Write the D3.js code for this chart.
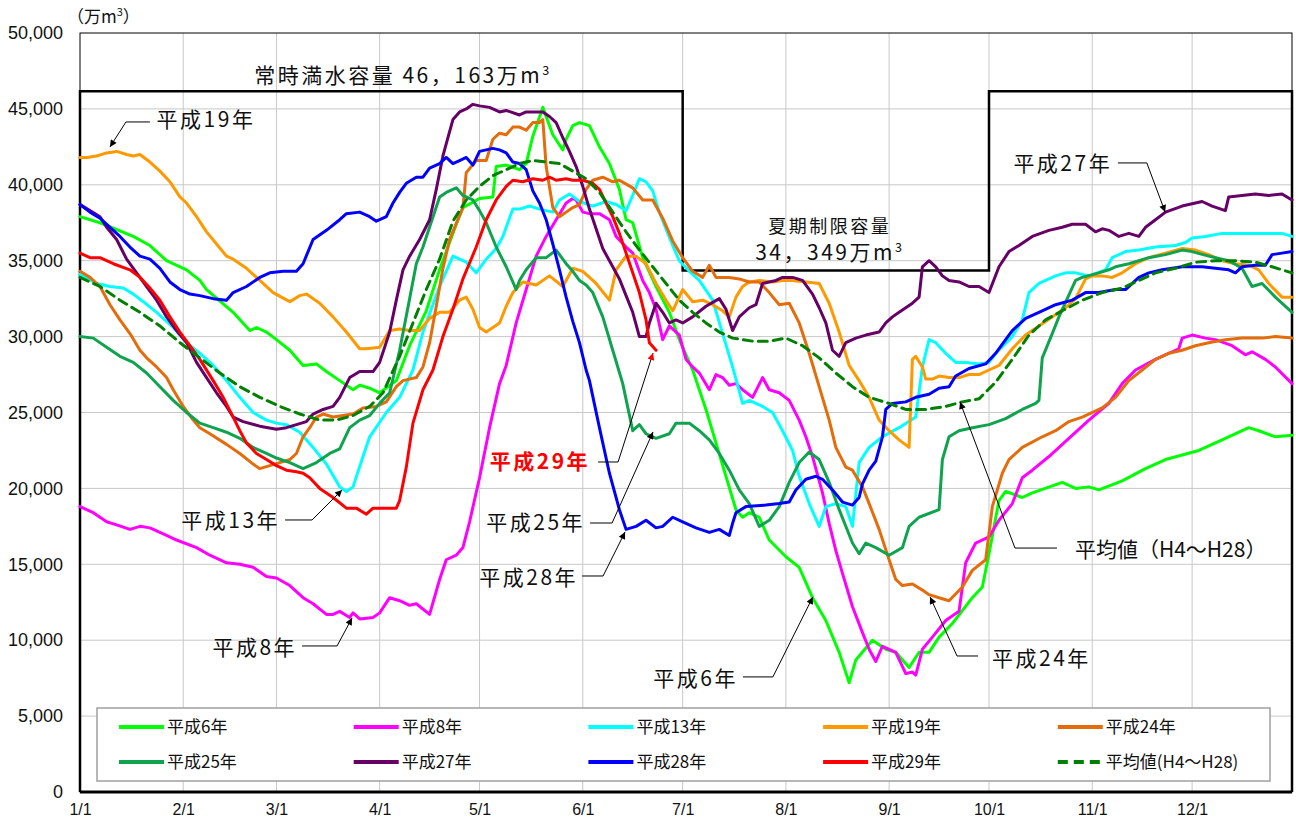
<!DOCTYPE html>
<html>
<head>
<meta charset="UTF-8">
<title>貯水量の推移</title>
<script src="https://d3js.org/d3.v7.min.js"></script>
<style>
  body { margin: 0; background: #fff; }
  svg text { font-family: "Noto Sans CJK JP", "Noto Sans", sans-serif; fill: #111; }
  .tick text { font-family: "Liberation Sans", Arial, sans-serif; fill: #111; }
  .grid line { stroke: #c8c8c8; stroke-width: 1; }
  .series { fill: none; stroke-width: 3; stroke-linejoin: round; stroke-linecap: round; }
  .ann { font-size: 21px; letter-spacing: 2.5px; }
  .leader { fill: none; stroke: #000; stroke-width: 1; }
  .legend-text { font-size: 17px; }
</style>
</head>
<body>
<script>
// ---- data (day of year from 1/1, 万m3) ----
const seriesNames = ["平成6年", "平成8年", "平成13年", "平成19年", "平成24年",
                     "平成25年", "平成27年", "平成28年", "平成29年", "平均値(H4～H28)"];
const seriesColors = ["#00ff00", "#ff00ff", "#00ffff", "#ff9900", "#e46c0a",
                      "#10a34f", "#660066", "#0000ff", "#ff0000", "#008000"];

const fullCapacity = 46163;
const summerCapacity = 34349;
const summerStart = 181;  // 7/1
const summerEnd = 273;    // 10/1
const yearEnd = 364;

const h06 = [[0,37900],[6,37500],[16,36600],[21,36000],[26,35000],[32,34400],[36,33700],[38,33100],[46,31600],[51,30400],[53,30600],[56,30300],[59,29800],[63,29100],[67,28100],[71,28200],[74,27700],[78,27100],[82,26500],[84,26800],[87,26600],[90,26300],[95,27100],[99,29400],[104,31700],[108,34400],[113,37400],[115,38500],[120,39100],[124,39200],[125,41200],[128,41300],[132,41000],[134,41400],[136,43200],[139,45100],[140,44500],[142,43300],[145,42300],[146,43000],[148,43900],[150,44100],[153,43900],[156,42500],[159,41400],[162,39700],[164,37700],[166,37500],[169,35200],[173,33300],[177,31600],[180,29800],[184,27800],[188,25200],[191,23000],[194,20800],[197,18600],[199,18100],[201,18400],[204,18100],[207,16600],[212,15500],[216,14800],[220,12800],[224,11300],[228,9200],[231,7200],[233,8700],[238,10000],[242,9400],[245,9200],[249,8200],[252,9200],[255,9200],[258,10200],[262,11100],[268,12800],[271,13500],[273,15700],[276,19200],[278,19800],[283,19400],[286,19700],[295,20400],[299,20000],[303,20100],[306,19900],[313,20500],[320,21300],[326,21900],[336,22500],[343,23200],[351,24000],[354,23800],[359,23400],[364,23500]];

const h08 = [[0,18800],[4,18400],[8,17800],[11,17600],[15,17300],[18,17500],[21,17400],[26,16900],[29,16600],[35,16100],[39,15600],[44,15100],[48,15000],[52,14800],[56,14200],[59,14100],[63,13600],[67,12800],[70,12400],[74,11700],[76,11700],[78,11900],[81,11500],[82,11800],[84,11400],[88,11500],[90,11800],[93,12800],[96,12600],[99,12300],[101,12400],[105,11700],[108,14000],[110,15300],[113,15600],[115,16100],[117,17800],[120,20700],[123,24000],[126,26900],[128,28100],[131,30900],[134,33100],[137,35300],[140,36600],[143,37700],[146,38800],[148,39100],[149,39000],[151,38200],[153,38100],[156,38100],[159,37700],[161,36600],[164,35900],[166,35500],[169,33700],[171,32900],[173,31800],[175,29800],[177,30700],[180,30100],[182,28500],[184,28000],[186,27600],[189,26500],[191,27500],[193,27300],[195,26800],[197,26900],[199,26500],[202,26000],[205,27300],[207,26500],[210,26300],[213,25800],[216,24500],[218,23400],[220,22100],[223,19700],[225,17700],[227,15900],[229,14400],[232,12200],[235,10500],[237,9400],[239,8600],[241,9600],[245,9200],[248,7800],[250,7900],[251,7700],[253,9400],[256,10200],[260,11300],[264,11900],[266,15100],[269,16400],[273,16800],[276,17900],[280,19000],[283,20700],[286,21200],[291,22100],[296,23100],[303,24500],[309,25600],[313,26900],[317,27800],[323,28500],[330,29200],[331,29900],[334,30100],[338,29900],[341,29800],[346,29400],[350,28800],[352,29000],[356,28500],[359,28000],[364,26900]];

const h13 = [[0,34100],[5,33500],[9,33300],[13,33200],[16,32800],[19,32300],[23,31600],[28,30600],[32,29600],[36,28900],[40,28100],[44,27100],[48,26000],[52,25000],[56,24500],[59,24300],[62,24200],[66,23700],[70,22700],[74,21600],[78,20100],[80,19800],[82,20100],[85,22100],[87,23400],[92,25000],[96,26000],[100,27800],[103,30300],[108,33300],[112,35300],[116,34900],[119,34200],[122,35100],[125,35800],[127,36600],[130,38400],[132,38400],[135,38600],[138,38400],[142,38200],[144,39000],[147,39400],[150,38900],[154,38600],[158,38900],[161,38700],[164,38300],[166,39300],[168,40400],[170,40200],[172,39600],[174,38200],[176,37100],[178,36000],[180,35000],[183,34300],[186,33700],[190,32400],[193,30200],[196,28000],[199,25600],[201,25800],[205,25400],[208,25000],[211,23800],[214,22500],[216,20800],[219,19000],[222,17500],[224,18800],[227,19000],[230,18800],[232,17500],[234,21700],[237,22700],[241,23400],[246,24000],[251,24700],[253,28000],[255,29800],[257,29600],[260,28900],[263,28300],[266,28300],[270,28200],[273,28300],[275,28900],[280,30000],[283,31100],[285,32900],[288,33500],[293,34000],[296,34200],[299,34200],[303,34000],[308,34400],[310,35200],[314,35600],[318,35700],[323,35900],[329,36000],[332,36200],[334,36500],[338,36600],[343,36800],[349,36800],[356,36800],[361,36800],[364,36600]];

const h19 = [[0,41800],[2,41800],[5,41900],[8,42100],[11,42200],[14,42000],[16,41900],[18,42000],[21,41500],[24,40900],[27,40200],[30,39200],[32,38800],[35,37900],[38,36900],[41,36100],[44,35300],[46,35100],[50,34500],[54,33700],[58,32900],[63,32300],[66,32700],[68,32800],[72,32200],[76,31300],[80,30300],[84,29200],[86,29200],[90,29300],[93,30400],[96,30500],[99,30400],[102,30400],[105,31200],[108,31600],[111,31600],[114,32400],[116,32600],[118,31800],[120,30600],[122,30300],[124,30600],[126,30900],[128,32000],[130,32900],[133,33600],[137,33400],[141,34000],[145,33300],[148,34500],[151,34300],[155,33500],[159,32400],[161,34400],[164,35300],[167,35300],[170,34800],[173,33500],[176,32400],[178,31700],[181,33100],[184,32300],[187,32400],[190,32100],[193,31700],[195,31300],[197,32600],[199,33300],[201,33600],[204,33700],[208,33600],[211,33700],[214,33700],[218,33600],[222,33500],[225,32200],[228,30300],[231,28100],[234,27100],[237,26000],[240,24500],[243,23800],[246,23200],[249,22700],[250,28500],[251,28700],[253,28000],[254,27200],[256,27200],[258,27400],[261,27300],[264,27300],[267,27500],[270,27500],[273,27800],[276,28100],[280,29200],[284,30100],[290,31000],[296,31900],[299,32500],[302,33800],[304,34000],[307,34000],[310,33900],[313,34200],[317,34800],[321,35200],[326,35500],[331,35800],[335,35700],[339,35400],[343,35000],[347,34800],[351,34700],[354,34400],[357,33500],[361,32600],[364,32600]];

const h24 = [[0,34300],[3,33900],[6,33300],[9,32100],[12,31100],[15,30200],[18,29100],[20,28600],[23,28000],[26,27300],[28,26500],[31,25400],[34,24500],[36,24000],[39,23600],[44,22900],[48,22300],[52,21600],[54,21300],[57,21500],[60,21700],[63,21900],[65,22300],[67,23400],[69,24000],[71,24700],[73,24900],[76,24700],[79,24800],[82,24900],[85,25300],[89,25400],[92,25700],[95,26700],[97,27100],[101,27300],[103,28000],[105,29600],[107,32000],[109,34500],[111,36400],[115,38500],[116,40800],[119,41600],[122,41600],[124,43000],[126,43400],[128,43300],[130,43800],[132,43800],[134,43600],[136,44100],[138,44100],[139,44300],[140,41200],[142,38500],[144,37900],[146,38200],[148,38500],[150,38700],[152,39700],[154,40300],[157,40500],[160,40200],[162,40300],[166,39800],[169,39000],[172,39000],[175,37800],[178,36300],[181,35200],[184,34300],[187,33900],[189,34700],[190,34300],[191,33900],[195,33900],[198,33800],[201,33600],[204,33600],[207,32900],[210,32100],[213,32200],[216,30900],[219,28900],[222,26700],[225,24500],[227,22700],[230,21400],[232,21200],[235,20100],[237,19000],[240,17300],[243,15300],[245,14000],[247,13600],[250,13700],[253,13300],[255,13000],[258,12800],[261,12600],[265,13500],[268,14600],[272,15300],[274,18800],[277,21000],[279,21900],[283,22700],[289,23400],[293,23800],[297,24400],[301,24700],[307,25300],[311,26000],[315,27100],[319,27800],[323,28500],[327,28900],[331,29100],[335,29400],[339,29600],[344,29800],[349,29900],[355,29900],[359,30000],[364,29900]];

const h25 = [[0,30000],[4,29900],[8,29300],[12,28700],[16,28300],[20,27600],[24,26700],[28,25800],[32,25000],[36,24300],[40,24000],[44,23700],[48,23300],[52,22700],[56,22300],[59,22000],[63,21700],[67,21300],[71,21700],[75,22300],[78,22600],[81,24000],[84,24500],[87,24800],[90,25600],[93,26300],[96,29100],[99,32500],[101,34800],[103,35900],[108,39200],[110,39500],[113,39800],[115,39300],[118,39000],[120,38300],[122,37500],[125,35900],[128,34600],[131,33100],[132,33700],[134,34400],[137,35200],[140,35200],[143,35700],[146,34800],[148,34300],[150,33700],[152,33400],[154,32900],[157,31300],[160,29100],[163,26900],[166,23800],[168,24200],[170,23600],[173,23300],[177,23600],[179,24300],[183,24300],[186,23800],[189,23200],[192,22300],[195,21200],[198,19900],[201,19000],[204,17500],[207,17900],[210,18800],[213,20400],[216,21700],[219,22400],[222,21900],[225,20400],[228,18600],[232,16400],[234,15700],[236,16400],[239,16100],[243,15600],[247,16100],[249,17500],[252,18100],[258,18600],[259,21900],[261,23400],[264,23800],[268,24000],[273,24200],[278,24600],[283,25200],[287,25600],[288,25800],[289,28600],[292,30200],[294,31300],[299,33700],[301,33900],[306,34200],[309,34400],[311,34600],[315,34800],[321,35200],[326,35400],[331,35700],[334,35600],[339,35300],[345,35000],[349,34500],[352,33300],[355,33500],[359,32600],[364,31600]];

const h27 = [[0,38700],[3,38300],[6,37900],[8,37200],[11,36400],[14,35100],[17,34200],[20,33300],[23,32400],[26,31300],[29,30400],[32,29600],[35,28300],[38,27300],[41,26300],[44,25400],[46,24700],[49,24400],[54,24100],[59,23900],[62,24000],[65,24200],[68,24400],[70,24900],[73,25200],[76,25400],[78,26000],[81,27300],[84,27700],[88,27700],[90,28300],[93,30300],[95,32400],[97,34400],[99,35300],[102,36400],[105,37700],[107,39700],[109,41900],[111,43500],[112,44300],[114,44800],[116,45000],[118,45300],[120,45200],[123,45100],[126,44800],[128,44900],[132,44600],[134,44800],[136,44800],[139,44800],[141,44500],[143,44100],[145,43100],[147,42200],[149,41200],[151,39900],[153,38400],[155,37100],[157,35800],[160,34600],[162,33800],[164,32700],[166,31600],[168,30000],[170,30000],[171,30900],[173,32200],[175,31600],[177,30900],[179,31100],[181,30900],[184,31300],[188,32000],[192,32500],[194,31800],[196,30400],[198,31300],[201,31900],[203,32100],[205,33500],[209,33700],[211,33900],[214,33900],[217,33700],[220,32800],[222,31900],[224,30900],[226,29100],[228,28700],[230,29600],[233,29900],[236,30100],[240,30300],[242,30900],[244,31300],[246,31600],[250,32200],[252,32600],[253,34600],[255,35000],[257,34600],[259,34000],[261,33700],[264,33600],[267,33300],[270,33300],[273,32900],[276,34600],[279,35600],[282,36000],[286,36600],[291,37000],[295,37200],[298,37400],[302,37400],[305,36900],[307,37100],[309,37000],[312,36600],[315,36800],[318,36600],[320,37200],[323,37700],[326,38200],[331,38600],[337,38900],[340,38600],[344,38300],[345,39200],[349,39300],[353,39400],[357,39300],[361,39400],[364,39000]];

const h28 = [[0,38700],[3,38200],[6,37800],[9,37200],[12,36600],[15,35900],[18,35300],[21,35100],[24,34500],[27,33600],[30,33100],[33,32800],[36,32700],[40,32500],[44,32400],[46,32900],[50,33300],[54,33900],[57,34200],[61,34300],[65,34300],[67,34800],[70,36400],[74,37000],[78,37700],[80,38100],[84,38200],[87,37900],[89,37600],[92,37900],[94,38800],[96,39500],[98,40100],[101,40500],[103,40500],[105,41100],[108,41400],[110,41800],[112,41400],[114,41600],[116,41800],[118,41300],[120,42200],[122,42300],[124,42400],[126,42300],[128,42100],[130,41500],[132,41400],[134,41000],[136,39600],[138,38800],[140,37700],[142,36100],[144,34400],[146,32600],[148,31000],[150,29600],[152,27800],[153,27100],[156,24000],[159,21000],[162,18600],[164,17300],[167,17500],[170,17900],[173,17400],[175,17500],[178,18100],[181,17800],[185,17400],[189,17100],[192,17300],[195,16900],[196,17700],[197,18400],[200,18800],[206,18900],[210,19000],[213,19100],[215,19900],[218,20600],[221,20800],[223,20600],[226,19900],[229,19100],[232,18900],[234,19400],[235,20300],[237,21200],[239,21800],[241,23400],[242,25200],[244,25600],[248,25700],[251,26000],[255,26200],[258,26600],[261,26700],[263,27400],[267,27900],[272,28200],[275,28900],[278,29800],[280,30400],[284,31200],[288,31600],[293,32100],[298,32400],[302,32900],[306,32900],[311,33100],[314,33100],[318,33900],[321,34200],[325,34400],[331,34600],[337,34600],[341,34500],[345,34400],[347,34200],[349,34600],[353,34700],[356,34700],[358,35400],[361,35500],[364,35600]];

const h29 = [[0,35500],[3,35200],[6,35200],[10,34800],[15,34400],[18,33900],[21,33200],[24,32400],[27,31300],[30,30300],[33,29400],[36,28500],[40,27100],[43,26000],[46,24700],[48,23800],[50,23000],[53,22300],[56,21900],[59,21500],[62,21200],[65,21100],[67,21000],[69,20700],[72,20000],[76,19400],[80,18700],[83,18700],[86,18300],[88,18700],[92,18700],[95,18700],[96,19200],[98,21400],[100,24300],[103,26500],[106,27800],[109,30000],[112,31800],[115,33800],[119,35900],[122,37700],[125,39000],[128,39900],[130,40300],[133,40200],[136,40400],[139,40300],[141,40500],[143,40300],[146,40400],[148,40300],[151,40300],[154,40100],[156,39700],[158,38800],[160,37900],[162,36800],[164,35500],[166,34200],[168,32900],[170,31100],[171,29600],[173,29100]];

const average = [[0,33900],[6,33300],[12,32400],[18,31600],[24,30700],[30,29600],[36,28600],[42,27600],[48,26700],[54,26000],[60,25400],[66,24900],[72,24500],[77,24500],[82,24800],[87,25400],[91,26300],[96,28700],[100,30900],[104,33100],[108,35100],[112,37600],[116,39000],[120,39900],[124,40600],[128,41000],[132,41400],[136,41600],[140,41500],[144,41400],[148,40900],[152,40400],[156,39500],[160,38200],[164,36900],[168,35700],[172,34600],[176,33500],[180,32400],[184,31600],[188,30900],[192,30300],[196,29900],[202,29700],[207,29700],[212,29900],[217,29400],[222,28600],[227,27600],[232,26700],[237,26000],[243,25600],[248,25200],[254,25200],[260,25400],[265,25700],[270,25900],[275,27000],[280,28500],[285,30100],[290,31100],[295,31700],[301,32400],[307,32900],[313,33200],[318,33700],[323,34200],[329,34500],[335,34900],[341,35000],[347,35000],[353,34900],[358,34600],[364,34200]];

const seriesData = [h06, h08, h13, h19, h24, h25, h27, h28, h29, average];

const yTicks = [0, 5000, 10000, 15000, 20000, 25000, 30000, 35000, 40000, 45000, 50000];

// annotation labels: text anchor point and leader path, in [day, 万m3]
const labels = [
  { text: "平成19年", at: [23, 43800], anchor: "start", path: [[21, 44140], [13.8, 44140], [9, 42490]] },
  { text: "平成27年", at: [310, 40900], anchor: "end", path: [[311.7, 41440], [320.4, 41440], [325.9, 38210]] },
  { text: "平成13年", at: [60.1, 17390], anchor: "end", path: [[61.6, 17920], [69.7, 17920], [78.7, 19900]] },
  { text: "平成8年", at: [65.2, 9030], anchor: "end", path: [[66.7, 9620], [77.2, 9620], [81.7, 11460]] },
  { text: "平成29年", at: [153.2, 21280], anchor: "end", path: [[155.6, 21740], [161.6, 21740], [172.1, 28920]], red: true },
  { text: "平成25年", at: [151.7, 17260], anchor: "end", path: [[153.2, 17720], [159.8, 17720], [172.1, 23720]] },
  { text: "平成28年", at: [149.6, 13640], anchor: "end", path: [[150.8, 14230], [157.1, 14230], [163.7, 17130]] },
  { text: "平成6年", at: [197.6, 6980], anchor: "end", path: [[199.1, 7580], [208.1, 7580], [220.1, 12850]] },
  { text: "平成24年", at: [273.9, 8300], anchor: "start", path: [[269.7, 8960], [263.4, 8960], [255.3, 12850]] },
  { text: "平均値（H4～H28）", at: [298.8, 15480], anchor: "start", path: [[293.4, 16070], [280.8, 16070], [264.3, 25690]], tight: true }
];

// ---- layout ----
const width = 1296, height = 825;
const plotLeft = 80, plotRight = 1292, plotTop = 33, plotBottom = 792;

const day0 = new Date(Date.UTC(2017, 0, 1));
const toDate = d => new Date(day0.getTime() + d * 86400000);

const x = d3.scaleUtc()
    .domain([day0, toDate(yearEnd)])
    .range([plotLeft, plotRight]);
const y = d3.scaleLinear()
    .domain([0, 50000])
    .range([plotBottom, plotTop]);

const px = d => x(toDate(d));

const svg = d3.select("body").append("svg")
    .attr("width", width)
    .attr("height", height);

const defs = svg.append("defs");
[["arrow", "#000"], ["arrowRed", "#ff0000"]].forEach(([id, c]) => {
    defs.append("marker")
        .attr("id", id)
        .attr("viewBox", "0 0 10 10")
        .attr("refX", 10).attr("refY", 5)
        .attr("markerWidth", 9).attr("markerHeight", 7)
        .attr("markerUnits", "userSpaceOnUse")
        .attr("orient", "auto")
      .append("path").attr("d", "M0,0L10,5L0,10z").attr("fill", c);
});

const months = d3.utcMonth.range(day0, new Date(Date.UTC(2018, 0, 1)));

// grid
const grid = svg.append("g").attr("class", "grid");
grid.selectAll(".vx").data(months.slice(1)).join("line")
    .attr("x1", d => x(d)).attr("x2", d => x(d))
    .attr("y1", plotTop).attr("y2", plotBottom);
grid.selectAll(".hy").data(yTicks.slice(1, -1)).join("line")
    .attr("x1", plotLeft).attr("x2", plotRight)
    .attr("y1", d => y(d)).attr("y2", d => y(d));

// axes
svg.append("g")
    .attr("transform", `translate(${plotLeft},0)`)
    .call(d3.axisLeft(y).tickValues(yTicks).tickFormat(d3.format(",")).tickSize(0).tickPadding(17))
    .call(g => g.select(".domain").remove())
    .selectAll("text").style("font-size", "18px");

svg.append("g")
    .attr("transform", `translate(0,${plotBottom})`)
    .call(d3.axisBottom(x).tickValues(months).tickFormat(d3.utcFormat("%-m/%-d")).tickSize(0).tickPadding(12))
    .call(g => g.select(".domain").remove())
    .selectAll("text").style("font-size", "16px");

// frame
svg.append("rect")
    .attr("x", plotLeft).attr("y", plotTop)
    .attr("width", plotRight - plotLeft).attr("height", plotBottom - plotTop)
    .attr("fill", "none").attr("stroke", "#000").attr("stroke-width", 1);

// capacity line
const capPts = [[0, 0], [0, fullCapacity], [summerStart, fullCapacity], [summerStart, summerCapacity],
                [summerEnd, summerCapacity], [summerEnd, fullCapacity], [yearEnd, fullCapacity], [yearEnd, 0]];
svg.append("path")
    .attr("d", d3.line().x(d => px(d[0])).y(d => y(d[1]))(capPts))
    .attr("fill", "none").attr("stroke", "#000").attr("stroke-width", 2.5);
svg.append("line")
    .attr("x1", plotLeft).attr("x2", plotRight).attr("y1", plotBottom).attr("y2", plotBottom)
    .attr("stroke", "#000").attr("stroke-width", 3);

// series
const line = d3.line().x(d => px(d[0])).y(d => y(d[1]));
seriesData.forEach((data, i) => {
    const p = svg.append("path")
        .attr("class", "series")
        .attr("d", line(data))
        .attr("stroke", seriesColors[i]);
    if (i === seriesData.length - 1) {
        p.attr("stroke-dasharray", "9,6").attr("stroke-width", 3.5).attr("stroke-linecap", "butt");
    }
});

// capacity labels
function supText(g, xx, yy, main, anchor, size) {
    const t = g.append("text").attr("x", xx).attr("y", yy)
        .attr("text-anchor", anchor).attr("class", "ann").style("font-size", size + "px");
    t.append("tspan").text(main);
    t.append("tspan").attr("dy", -8).style("font-size", (size * 0.6) + "px").text("3");
    return t;
}
supText(svg, px(97), y(46700), "常時満水容量 46，163万m", "middle", 21);
svg.append("text").attr("class", "ann").attr("x", px(225.2)).attr("y", y(36850))
    .attr("text-anchor", "middle").style("font-size", "18px").text("夏期制限容量");
supText(svg, px(225.2), y(35050), "34，349万m", "middle", 21);

// unit
const unit = svg.append("text").attr("x", 67).attr("y", 23).style("font-size", "17px");
unit.append("tspan").text("（万m");
unit.append("tspan").attr("dy", -7).style("font-size", "11px").text("3");
unit.append("tspan").attr("dy", 7).text("）");

// annotations
labels.forEach(a => {
    svg.append("path")
        .attr("class", "leader")
        .attr("d", d3.line().x(d => px(d[0])).y(d => y(d[1]))(a.path))
        .attr("stroke", a.red ? "#ff0000" : "#000")
        .attr("marker-end", a.red ? "url(#arrowRed)" : "url(#arrow)");
    svg.append("text")
        .attr("class", "ann")
        .attr("x", px(a.at[0])).attr("y", y(a.at[1]))
        .attr("text-anchor", a.anchor)
        .style("fill", a.red ? "#ff0000" : "#111")
        .style("font-weight", a.red ? "bold" : "normal")
        .style("letter-spacing", a.tight ? "0px" : null)
        .text(a.text);
});

// legend
const legend = svg.append("g");
legend.append("rect")
    .attr("x", 97).attr("y", 708).attr("width", 1173).attr("height", 73)
    .attr("fill", "#fff").attr("stroke", "#a0a0a0").attr("stroke-width", 1.5);
seriesNames.forEach((name, i) => {
    const col = i % 5, row = Math.floor(i / 5);
    const lx = 119 + col * 234.7, ly = 727 + row * 35;
    const l = legend.append("line")
        .attr("x1", lx).attr("x2", lx + 45).attr("y1", ly).attr("y2", ly)
        .attr("stroke", seriesColors[i]).attr("stroke-width", 4);
    if (i === seriesNames.length - 1) l.attr("stroke-dasharray", "10,6");
    legend.append("text")
        .attr("class", "legend-text")
        .attr("x", lx + 48).attr("y", ly + 6)
        .text(name);
});
</script>
</body>
</html>
